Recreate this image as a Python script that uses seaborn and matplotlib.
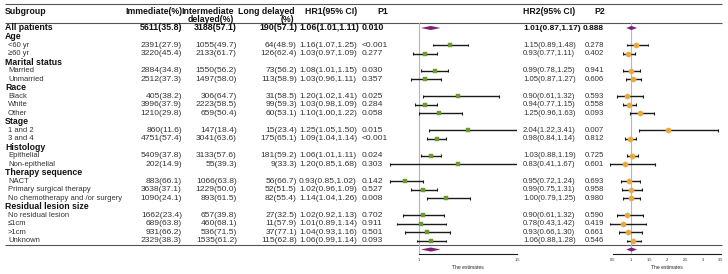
import numpy as np
import pandas as pd
import matplotlib
matplotlib.use("Agg")
import matplotlib.pyplot as plt
import seaborn as sns

sns.set_style("white")
plt.rcParams['font.family'] = ['Liberation Sans', 'DejaVu Sans']

# ---- data ----
subgroups = ["All patients", "Age", "<60 yr", "≥60 yr", "Marital status", "Married", "Unmarried",
             "Race", "Black", "White", "Other", "Stage", "1 and 2", "3 and 4",
             "Histology", "Epithelial", "Non-epithelial", "Therapy sequence", "NACT",
             "Primary surgical therapy", "No chemotherapy and /or surgery",
             "Residual lesion size", "No residual lesion", "≤1cm", ">1cm", "Unknown"]
headings = ["Age", "Marital status", "Race", "Stage", "Histology", "Therapy sequence",
            "Residual lesion size"]

immediate = ["5611(35.8)", "", "2391(27.9)", "3220(45.4)", "", "2884(34.8)", "2512(37.3)", "",
             "405(38.2)", "3996(37.9)", "1210(29.8)", "", "860(11.6)", "4751(57.4)", "",
             "5409(37.8)", "202(14.9)", "", "883(66.1)", "3638(37.1)", "1090(24.1)", "",
             "1662(23.4)", "689(63.8)", "931(66.2)", "2329(38.3)"]
intermediate = ["3188(57.1)", "", "1055(49.7)", "2133(61.7)", "", "1550(56.2)", "1497(58.0)", "",
                "306(64.7)", "2223(58.5)", "659(50.4)", "", "147(18.4)", "3041(63.6)", "",
                "3133(57.6)", "55(39.3)", "", "1066(63.8)", "1229(50.0)", "893(61.5)", "",
                "657(39.8)", "460(68.1)", "536(71.5)", "1535(61.2)"]
long_delayed = ["190(57.1)", "", "64(48.9)", "126(62.4)", "", "73(56.2)", "113(58.9)", "",
                "31(58.5)", "99(59.3)", "60(53.1)", "", "15(23.4)", "175(65.1)", "",
                "181(59.2)", "9(33.3)", "", "56(66.7)", "52(51.5)", "82(55.4)", "",
                "27(32.5)", "11(57.9)", "37(77.1)", "115(62.8)"]

nan = np.nan
hr1 = [1.06, nan, 1.16, 1.03, nan, 1.08, 1.03, nan, 1.20, 1.03, 1.10, nan, 1.25, 1.09, nan,
       1.06, 1.20, nan, 0.93, 1.02, 1.14, nan, 1.02, 1.01, 1.04, 1.06]
lo1 = [1.01, nan, 1.07, 0.97, nan, 1.01, 0.96, nan, 1.02, 0.98, 1.00, nan, 1.05, 1.04, nan,
       1.01, 0.85, nan, 0.85, 0.96, 1.04, nan, 0.92, 0.89, 0.93, 0.99]
hi1 = [1.11, nan, 1.25, 1.09, nan, 1.15, 1.11, nan, 1.41, 1.09, 1.22, nan, 1.50, 1.14, nan,
       1.11, 1.68, nan, 1.02, 1.09, 1.26, nan, 1.13, 1.14, 1.16, 1.14]
p1 = ["0.010", "", "<0.001", "0.277", "", "0.030", "0.357", "", "0.025", "0.284", "0.058", "",
      "0.015", "<0.001", "", "0.024", "0.303", "", "0.142", "0.527", "0.008", "",
      "0.702", "0.911", "0.501", "0.093"]

hr2 = [1.01, nan, 1.15, 0.93, nan, 0.99, 1.05, nan, 0.90, 0.94, 1.25, nan, 2.04, 0.98, nan,
       1.03, 0.83, nan, 0.95, 0.99, 1.00, nan, 0.90, 0.78, 0.93, 1.06]
lo2 = [0.87, nan, 0.89, 0.77, nan, 0.78, 0.87, nan, 0.61, 0.77, 0.96, nan, 1.22, 0.84, nan,
       0.88, 0.41, nan, 0.72, 0.75, 0.79, nan, 0.61, 0.43, 0.66, 0.88]
hi2 = [1.17, nan, 1.48, 1.11, nan, 1.25, 1.27, nan, 1.32, 1.15, 1.63, nan, 3.41, 1.14, nan,
       1.19, 1.67, nan, 1.24, 1.31, 1.25, nan, 1.32, 1.42, 1.30, 1.28]
p2 = ["0.888", "", "0.278", "0.402", "", "0.941", "0.606", "", "0.593", "0.558", "0.093", "",
      "0.007", "0.812", "", "0.725", "0.601", "", "0.693", "0.958", "0.980", "",
      "0.590", "0.419", "0.661", "0.546"]

df = pd.DataFrame({"subgroup": subgroups, "immediate": immediate, "intermediate": intermediate,
                   "long": long_delayed, "hr1": hr1, "lo1": lo1, "hi1": hi1, "p1": p1,
                   "hr2": hr2, "lo2": lo2, "hi2": hi2, "p2": p2})
df["row"] = np.arange(len(df))
df["heading"] = df["subgroup"].isin(headings)

# ---- layout (pixels) ----
W, H = 728, 274
Y0, DY = 28.0, 8.52          # pixel y of first row, row spacing


def py(r):
    return Y0 + r * DY


def prow(y):
    return (y - Y0) / DY


fig = plt.figure(figsize=(W / 100, H / 100), dpi=100)
tab = fig.add_axes([0, 0, 1, 1])
tab.set_xlim(0, W)
tab.set_ylim(H, 0)
tab.axis('off')

fs_item, fs_left, fs_right = 5.5, 6.1, 5.6
fs_head = 6.3
txt = '#333333'
dark = '#111111'

# header
hdr = dict(fontsize=fs_head, fontweight='bold', va='center', color=dark)
tab.text(5, 12, "Subgroup", ha='left', **hdr)
tab.text(182, 12, "Immediate(%)", ha='right', **hdr)
tab.text(234, 12, "Intermediate", ha='right', **hdr)
tab.text(234, 19.5, "delayed(%)", ha='right', **hdr)
tab.text(295, 12, "Long delayed", ha='right', **hdr)
tab.text(294, 19.5, "(%)", ha='right', **hdr)
tab.text(305, 12, "HR1(95% CI)", ha='left', **hdr)
tab.text(377, 12, "P1", ha='left', **hdr)
tab.text(523, 12, "HR2(95% CI)", ha='left', **hdr)
tab.text(594, 12, "P2", ha='left', **hdr)

# rules
tab.hlines([4, 22.5, 244.5], 5, 722, color='#555555', lw=0.8)

# rows
for _, r in df.iterrows():
    y = py(r["row"])
    if r["heading"]:
        tab.text(5, y, r["subgroup"], ha='left', va='center', fontsize=fs_head,
                 fontweight='bold', color=dark)
        continue
    bold = r["row"] == 0
    w = 'bold' if bold else 'normal'
    c = dark if bold else txt
    kl = dict(va='center', fontsize=6.4 if bold else fs_left, fontweight=w, color=c)
    kr = dict(va='center', fontsize=6.0 if bold else fs_right, fontweight=w, color=c)
    if bold:
        tab.text(5, y, r["subgroup"], ha='left', va='center', fontsize=fs_head,
                 fontweight='bold', color=dark)
    else:
        tab.text(8, y, r["subgroup"], ha='left', va='center', fontsize=fs_item, color=txt)
    tab.text(182, y, r["immediate"], ha='right', **kl)
    tab.text(237, y, r["intermediate"], ha='right', **kl)
    tab.text(297, y, r["long"], ha='right', **kl)
    tab.text(299, y, f"{r['hr1']:.2f}({r['lo1']:.2f},{r['hi1']:.2f})", ha='left', **kl)
    tab.text(362, y, r["p1"], ha='left', **kl)
    tab.text(523, y, f"{r['hr2']:.2f}({r['lo2']:.2f},{r['hi2']:.2f})", ha='left', **kr)
    tab.text(583 if bold else 585, y, r["p2"], ha='left', **kr)

# ---- forest panels ----
purple = '#7a1f7c'
ax_top, ax_bot = 22.5, 254


def forest(x1, ppu, xlim, col, color, marker, size, ticks, ticklabels, bounds):
    # x1: pixel of value 1, ppu: pixels per unit
    k = col[-1]
    l = x1 + (xlim[0] - 1) * ppu
    r = x1 + (xlim[1] - 1) * ppu
    ax = fig.add_axes([l / W, (H - ax_bot) / H, (r - l) / W, (ax_bot - ax_top) / H])
    ax.set_xlim(*xlim)
    ax.set_ylim(prow(ax_bot), prow(ax_top))
    ax.patch.set_alpha(0)
    ax.axvline(1, color='#b8b4c4', lw=0.8, zorder=0)
    items = df[(~df["heading"]) & (df["row"] > 0)]
    ax.hlines(items["row"], items["lo" + k], items["hi" + k], color='#1a1a1a', lw=1.0, zorder=2)
    ax.vlines(items["lo" + k], items["row"] - 0.17, items["row"] + 0.17, color='#1a1a1a', lw=0.8, zorder=2)
    ax.vlines(items["hi" + k], items["row"] - 0.17, items["row"] + 0.17, color='#1a1a1a', lw=0.8, zorder=2)
    sns.scatterplot(data=items, x=col, y="row", marker=marker, color=color, s=size,
                    edgecolor=color, linewidth=0.3, ax=ax, zorder=3, legend=False)
    allp = df.iloc[0]
    e, lo_, hi_ = allp[col], allp["lo" + k], allp["hi" + k]
    for rr in [0, len(df)]:
        ax.fill([lo_, e, hi_, e], [rr, rr - 0.24, rr, rr + 0.24], color=purple, lw=0, zorder=3)
    for s in ['left', 'top', 'right']:
        ax.spines[s].set_visible(False)
    ax.spines['bottom'].set_bounds(*bounds)
    ax.spines['bottom'].set_linewidth(0.8)
    ax.spines['bottom'].set_color('#1a1a1a')
    ax.set_yticks([])
    ax.set_xticks(ticks)
    ax.set_xticklabels(ticklabels)
    ax.tick_params(axis='x', length=2.5, width=0.6, labelsize=2.8, pad=1.5,
                   direction='inout', color='#1a1a1a')
    ax.set_xlabel("The estimates", fontsize=3.6, labelpad=2)
    ax.set_ylabel("")
    ax.xaxis.label.set_x(((bounds[0] + bounds[1]) / 2 - xlim[0]) / (xlim[1] - xlim[0]))
    return ax


forest(419, 196, (0.8, 1.5), "hr1", '#6b9b2b', 's', 9,
       [1, 1.5], ["1", "1.5"], (1, 1.5))
forest(631, 36, (0.35, 3.55), "hr2", '#e8a93a', 'o', 14,
       [0.5, 1, 1.5, 2, 2.5, 3, 3.5], ["0.5", "1", "1.5", "2", "2.5", "3", "3.5"], (0.5, 3.5))

fig.savefig("out.png", dpi=100)
